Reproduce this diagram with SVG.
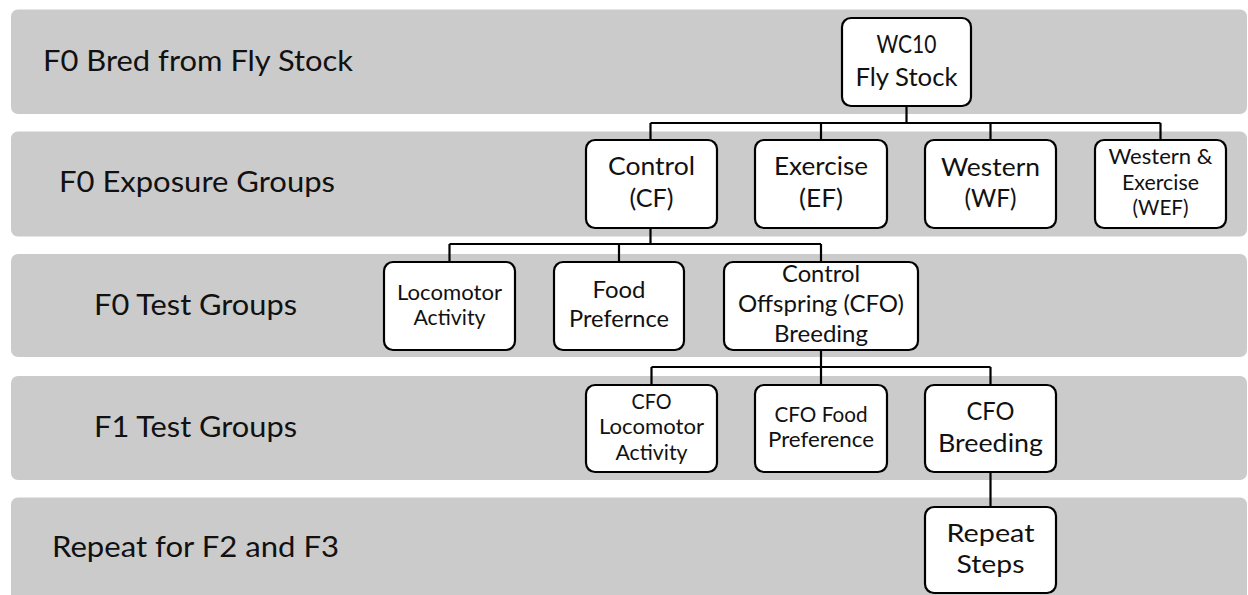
<svg xmlns="http://www.w3.org/2000/svg" width="1248" height="595" viewBox="0 0 1248 595">
  <style>
    .band { fill: #cbcbcb; }
    .lbl { font-family: Lato, "Open Sans", sans-serif; font-size: 29.5px; fill: #111; }
    .box { fill: #fff; stroke: #000; stroke-width: 2.2; }
    .t { font-family: Lato, "Open Sans", sans-serif; fill: #111; text-anchor: middle; }
    .lg { font-size: 25px; }
    .md { font-size: 22.5px; }
    .sm { font-size: 20.5px; }
    .conn { fill: none; stroke: #000; stroke-width: 2.2; }
  </style>

  <!-- generation bands -->
  <g id="bands">
    <rect class="band" x="11" y="9.5" width="1236" height="104.5" rx="7"/>
    <rect class="band" x="11" y="131.5" width="1236" height="105" rx="7"/>
    <rect class="band" x="11" y="254" width="1236" height="103" rx="7"/>
    <rect class="band" x="11" y="376" width="1236" height="104" rx="7"/>
    <rect class="band" x="11" y="497.5" width="1236" height="110" rx="7"/>
  </g>

  <!-- row labels -->
  <g id="labels">
    <text class="lbl" x="43" y="71" textLength="310" lengthAdjust="spacingAndGlyphs">F0 Bred from Fly Stock</text>
    <text class="lbl" x="59" y="192" textLength="276" lengthAdjust="spacingAndGlyphs">F0 Exposure Groups</text>
    <text class="lbl" x="94" y="315" textLength="203" lengthAdjust="spacingAndGlyphs">F0 Test Groups</text>
    <text class="lbl" x="94" y="437" textLength="203" lengthAdjust="spacingAndGlyphs">F1 Test Groups</text>
    <text class="lbl" x="52" y="557" textLength="287" lengthAdjust="spacingAndGlyphs">Repeat for F2 and F3</text>
  </g>

  <!-- tree connectors -->
  <g id="connectors" class="conn">
    <path d="M906.5 106 V123 M650.5 123 H1160.5 M650.5 123 V140 M821 123 V140 M990.5 123 V140 M1160.5 123 V140"/>
    <path d="M650.5 228 V244 M449.5 244 H821 M449.5 244 V262 M619 244 V262 M821 244 V262"/>
    <path d="M821 350 V367 M651.5 367 H990.5 M651.5 367 V385 M821 367 V385 M990.5 367 V385"/>
    <path d="M990.5 472 V507"/>
  </g>

  <g id="wc10">
    <rect class="box" x="842" y="18" width="129" height="88" rx="9"/>
    <text class="t lg" x="906.5" y="53" textLength="60" lengthAdjust="spacingAndGlyphs">WC10</text>
    <text class="t lg" x="906.5" y="86" textLength="102" lengthAdjust="spacingAndGlyphs">Fly Stock</text>
  </g>

  <g id="control-cf">
    <rect class="box" x="586" y="140" width="131" height="88" rx="9"/>
    <text class="t lg" x="651.5" y="175" textLength="87" lengthAdjust="spacingAndGlyphs">Control</text>
    <text class="t lg" x="651.5" y="207" textLength="44" lengthAdjust="spacingAndGlyphs">(CF)</text>
  </g>

  <g id="exercise-ef">
    <rect class="box" x="755" y="140" width="132" height="88" rx="9"/>
    <text class="t lg" x="821" y="175" textLength="94" lengthAdjust="spacingAndGlyphs">Exercise</text>
    <text class="t lg" x="821" y="207" textLength="44" lengthAdjust="spacingAndGlyphs">(EF)</text>
  </g>

  <g id="western-wf">
    <rect class="box" x="925" y="140" width="131" height="88" rx="9"/>
    <text class="t lg" x="990.5" y="176" textLength="99" lengthAdjust="spacingAndGlyphs">Western</text>
    <text class="t lg" x="990.5" y="207" textLength="52" lengthAdjust="spacingAndGlyphs">(WF)</text>
  </g>

  <g id="western-exercise-wef">
    <rect class="box" x="1095" y="140" width="131" height="88" rx="9"/>
    <text class="t sm" x="1160.5" y="164" textLength="104" lengthAdjust="spacingAndGlyphs">Western &amp;</text>
    <text class="t sm" x="1160.5" y="190" textLength="77" lengthAdjust="spacingAndGlyphs">Exercise</text>
    <text class="t sm" x="1160.5" y="215" textLength="56" lengthAdjust="spacingAndGlyphs">(WEF)</text>
  </g>

  <g id="locomotor-activity">
    <rect class="box" x="384" y="262" width="131" height="88" rx="9"/>
    <text class="t sm" x="449.5" y="300" textLength="105" lengthAdjust="spacingAndGlyphs">Locomotor</text>
    <text class="t sm" x="449.5" y="325" textLength="72" lengthAdjust="spacingAndGlyphs">Activity</text>
  </g>

  <g id="food-preference">
    <rect class="box" x="554" y="262" width="130" height="88" rx="9"/>
    <text class="t md" x="619" y="298" textLength="53" lengthAdjust="spacingAndGlyphs">Food</text>
    <text class="t md" x="619" y="327" textLength="100" lengthAdjust="spacingAndGlyphs">Prefernce</text>
  </g>

  <g id="cfo-breeding-f0">
    <rect class="box" x="724" y="262" width="194" height="88" rx="9"/>
    <text class="t md" x="821" y="282" textLength="78" lengthAdjust="spacingAndGlyphs">Control</text>
    <text class="t md" x="821" y="312" textLength="166" lengthAdjust="spacingAndGlyphs">Offspring (CFO)</text>
    <text class="t md" x="821" y="342" textLength="94" lengthAdjust="spacingAndGlyphs">Breeding</text>
  </g>

  <g id="cfo-locomotor">
    <rect class="box" x="586" y="385" width="131" height="87" rx="9"/>
    <text class="t sm" x="651.5" y="409" textLength="40" lengthAdjust="spacingAndGlyphs">CFO</text>
    <text class="t sm" x="651.5" y="434" textLength="105" lengthAdjust="spacingAndGlyphs">Locomotor</text>
    <text class="t sm" x="651.5" y="460" textLength="72" lengthAdjust="spacingAndGlyphs">Activity</text>
  </g>

  <g id="cfo-food">
    <rect class="box" x="755" y="385" width="132" height="87" rx="9"/>
    <text class="t sm" x="821" y="422" textLength="93" lengthAdjust="spacingAndGlyphs">CFO Food</text>
    <text class="t sm" x="821" y="447" textLength="106" lengthAdjust="spacingAndGlyphs">Preference</text>
  </g>

  <g id="cfo-breeding">
    <rect class="box" x="925" y="385" width="131" height="87" rx="9"/>
    <text class="t lg" x="990.5" y="420" textLength="48" lengthAdjust="spacingAndGlyphs">CFO</text>
    <text class="t lg" x="990.5" y="452" textLength="105" lengthAdjust="spacingAndGlyphs">Breeding</text>
  </g>

  <g id="repeat-steps">
    <rect class="box" x="925" y="507" width="131" height="86" rx="9"/>
    <text class="t lg" x="990.5" y="542" textLength="88" lengthAdjust="spacingAndGlyphs">Repeat</text>
    <text class="t lg" x="990.5" y="573" textLength="68" lengthAdjust="spacingAndGlyphs">Steps</text>
  </g>
</svg>
